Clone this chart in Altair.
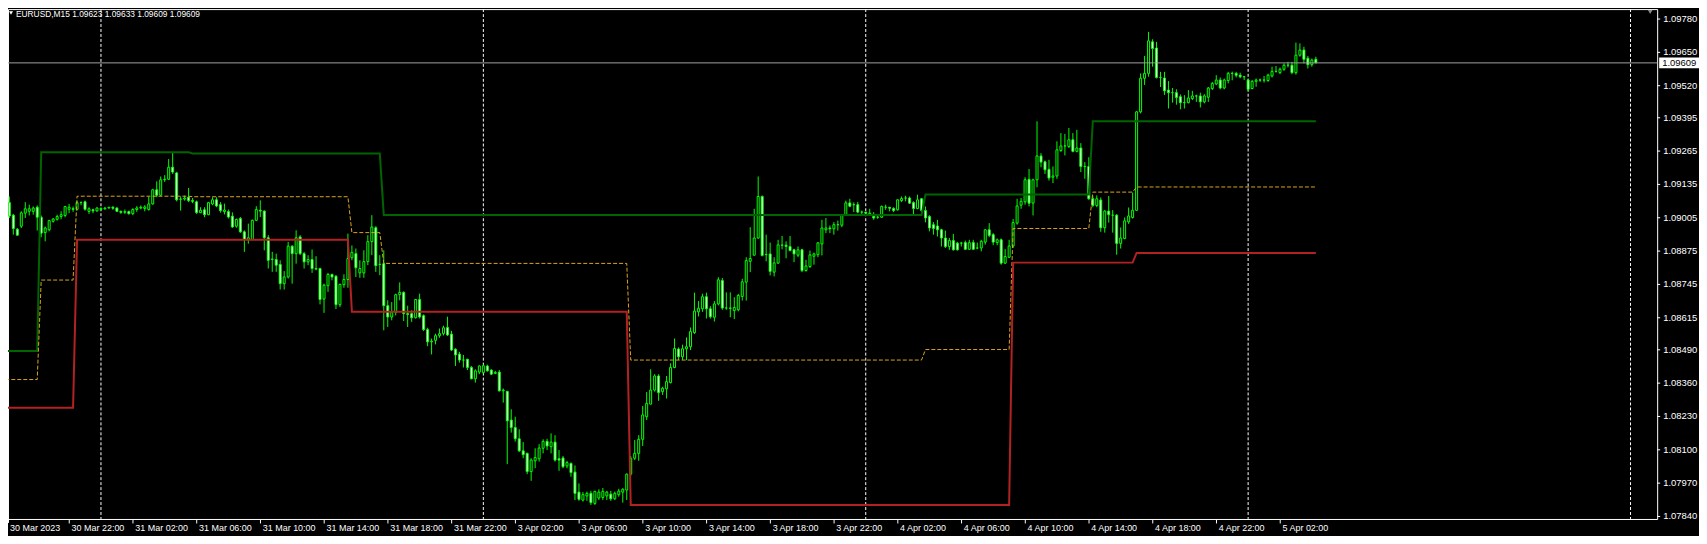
import altair as alt
import pandas as pd

# ---------------- values (EURUSD, M15) ----------------
bar_open = [
1.09121, 1.09064, 1.09015, 1.08960, 1.08972, 1.09023, 1.09030, 1.09030, 1.09046, 1.09007,
1.08947, 1.08958, 1.08991, 1.08999, 1.09010, 1.09014, 1.09038, 1.09040, 1.09038, 1.09064,
1.09067, 1.09030, 1.09036, 1.09032, 1.09037, 1.09040, 1.09043, 1.09046, 1.09043, 1.09030,
1.09026, 1.09029, 1.09021, 1.09037, 1.09043, 1.09041, 1.09037, 1.09059, 1.09114, 1.09093,
1.09153, 1.09155, 1.09202, 1.09180, 1.09077, 1.09078, 1.09085, 1.09072, 1.09067, 1.09025,
1.09036, 1.09017, 1.09059, 1.09075, 1.09056, 1.09029, 1.09029, 1.09011, 1.08972, 1.09002,
1.08950, 1.08920, 1.08920, 1.08995, 1.09034, 1.09031, 1.08927, 1.08842, 1.08842, 1.08823,
1.08748, 1.08774, 1.08894, 1.08865, 1.08930, 1.08865, 1.08833, 1.08842, 1.08807, 1.08807,
1.08688, 1.08740, 1.08784, 1.08777, 1.08666, 1.08744, 1.08764, 1.08849, 1.08865, 1.08790,
1.08790, 1.08834, 1.08912, 1.08966, 1.08823, 1.08826, 1.08662, 1.08618, 1.08636, 1.08705,
1.08714, 1.08631, 1.08631, 1.08615, 1.08686, 1.08623, 1.08569, 1.08521, 1.08527, 1.08545,
1.08553, 1.08577, 1.08551, 1.08492, 1.08473, 1.08450, 1.08453, 1.08421, 1.08377, 1.08403,
1.08401, 1.08427, 1.08411, 1.08398, 1.08403, 1.08330, 1.08328, 1.08216, 1.08187, 1.08143,
1.08096, 1.08086, 1.08015, 1.08057, 1.08065, 1.08106, 1.08133, 1.08112, 1.08130, 1.08065,
1.08068, 1.08037, 1.08047, 1.08013, 1.07935, 1.07904, 1.07920, 1.07930, 1.07891, 1.07912,
1.07914, 1.07920, 1.07927, 1.07909, 1.07925, 1.07935, 1.07943, 1.08005, 1.08067, 1.08086,
1.08141, 1.08229, 1.08278, 1.08333, 1.08388, 1.08327, 1.08338, 1.08362, 1.08421, 1.08493,
1.08463, 1.08494, 1.08502, 1.08557, 1.08638, 1.08650, 1.08697, 1.08650, 1.08617, 1.08669,
1.08760, 1.08653, 1.08653, 1.08643, 1.08646, 1.08698, 1.08754, 1.08835, 1.08859, 1.08926,
1.09088, 1.08861, 1.08864, 1.08793, 1.08828, 1.08898, 1.08898, 1.08893, 1.08880, 1.08859,
1.08880, 1.08799, 1.08815, 1.08855, 1.08861, 1.08903, 1.08958, 1.08965, 1.08962, 1.08978,
1.08976, 1.09017, 1.09063, 1.09056, 1.09056, 1.09027, 1.09027, 1.09020, 1.09011, 1.09007,
1.09007, 1.09046, 1.09046, 1.09041, 1.09036, 1.09072, 1.09082, 1.09082, 1.09064, 1.09041,
1.09079, 1.09033, 1.09010, 1.08978, 1.08973, 1.08958, 1.08926, 1.08893, 1.08916, 1.08906,
1.08906, 1.08908, 1.08882, 1.08908, 1.08887, 1.08887, 1.08910, 1.08958, 1.08939, 1.08908,
1.08919, 1.08828, 1.08851, 1.08895, 1.08984, 1.09054, 1.09067, 1.09155, 1.09062, 1.09153,
1.09246, 1.09223, 1.09194, 1.09163, 1.09168, 1.09267, 1.09285, 1.09283, 1.09309, 1.09264,
1.09277, 1.09205, 1.09205, 1.09079, 1.09053, 1.09074, 1.08966, 1.09031, 1.09015, 1.09015,
1.08905, 1.08924, 1.08989, 1.09006, 1.09034, 1.09418, 1.09549, 1.09568, 1.09691, 1.09667,
1.09552, 1.09550, 1.09503, 1.09493, 1.09493, 1.09477, 1.09454, 1.09454, 1.09470, 1.09480,
1.09480, 1.09457, 1.09475, 1.09509, 1.09527, 1.09542, 1.09511, 1.09540, 1.09568, 1.09568,
1.09561, 1.09555, 1.09542, 1.09509, 1.09537, 1.09542, 1.09542, 1.09540, 1.09558, 1.09576,
1.09571, 1.09584, 1.09600, 1.09600, 1.09571, 1.09639, 1.09659, 1.09627, 1.09602, 1.09623,
]
bar_high = [
1.09130, 1.09088, 1.09020, 1.08965, 1.09030, 1.09066, 1.09056, 1.09049, 1.09053, 1.09014,
1.08971, 1.08997, 1.09004, 1.09017, 1.09030, 1.09051, 1.09059, 1.09049, 1.09072, 1.09069,
1.09072, 1.09046, 1.09040, 1.09046, 1.09046, 1.09046, 1.09047, 1.09050, 1.09046, 1.09033,
1.09037, 1.09033, 1.09042, 1.09050, 1.09053, 1.09054, 1.09088, 1.09118, 1.09147, 1.09166,
1.09171, 1.09234, 1.09257, 1.09184, 1.09088, 1.09091, 1.09121, 1.09082, 1.09072, 1.09046,
1.09046, 1.09067, 1.09085, 1.09085, 1.09066, 1.09060, 1.09037, 1.09026, 1.09002, 1.09008,
1.08956, 1.08982, 1.08998, 1.09050, 1.09073, 1.09034, 1.08937, 1.08872, 1.08865, 1.08839,
1.08797, 1.08911, 1.08898, 1.08956, 1.08937, 1.08872, 1.08859, 1.08881, 1.08855, 1.08810,
1.08748, 1.08790, 1.08787, 1.08781, 1.08748, 1.08784, 1.08943, 1.08897, 1.08885, 1.08839,
1.08878, 1.08937, 1.09015, 1.08972, 1.08859, 1.08878, 1.08683, 1.08676, 1.08709, 1.08753,
1.08718, 1.08662, 1.08644, 1.08688, 1.08709, 1.08628, 1.08576, 1.08534, 1.08553, 1.08573,
1.08584, 1.08619, 1.08564, 1.08496, 1.08482, 1.08470, 1.08455, 1.08427, 1.08414, 1.08429,
1.08433, 1.08432, 1.08414, 1.08408, 1.08411, 1.08339, 1.08329, 1.08258, 1.08229, 1.08180,
1.08130, 1.08089, 1.08067, 1.08106, 1.08122, 1.08141, 1.08143, 1.08164, 1.08157, 1.08099,
1.08076, 1.08057, 1.08050, 1.08039, 1.07969, 1.07935, 1.07937, 1.07940, 1.07940, 1.07946,
1.07951, 1.07940, 1.07940, 1.07937, 1.07948, 1.07950, 1.08008, 1.08076, 1.08138, 1.08157,
1.08271, 1.08325, 1.08414, 1.08395, 1.08395, 1.08346, 1.08388, 1.08437, 1.08534, 1.08499,
1.08510, 1.08538, 1.08577, 1.08713, 1.08680, 1.08709, 1.08713, 1.08660, 1.08680, 1.08773,
1.08770, 1.08714, 1.08714, 1.08695, 1.08708, 1.08767, 1.08851, 1.08968, 1.09040, 1.09166,
1.09092, 1.08939, 1.08908, 1.08851, 1.08919, 1.08934, 1.08913, 1.08934, 1.08884, 1.08893,
1.08884, 1.08841, 1.08877, 1.08869, 1.08910, 1.08997, 1.09004, 1.08975, 1.08988, 1.08994,
1.09020, 1.09072, 1.09079, 1.09065, 1.09067, 1.09033, 1.09027, 1.09040, 1.09027, 1.09014,
1.09053, 1.09056, 1.09046, 1.09046, 1.09077, 1.09088, 1.09091, 1.09088, 1.09069, 1.09095,
1.09082, 1.09049, 1.09015, 1.08988, 1.08997, 1.08962, 1.08955, 1.08926, 1.08942, 1.08911,
1.08911, 1.08916, 1.08919, 1.08919, 1.08908, 1.08919, 1.08960, 1.08984, 1.08945, 1.08924,
1.08924, 1.08883, 1.08919, 1.09000, 1.09079, 1.09082, 1.09163, 1.09195, 1.09157, 1.09381,
1.09257, 1.09228, 1.09231, 1.09205, 1.09303, 1.09335, 1.09332, 1.09355, 1.09335, 1.09348,
1.09296, 1.09222, 1.09241, 1.09091, 1.09092, 1.09084, 1.09035, 1.09090, 1.09035, 1.09019,
1.08967, 1.09006, 1.09045, 1.09103, 1.09422, 1.09568, 1.09636, 1.09730, 1.09701, 1.09691,
1.09574, 1.09574, 1.09538, 1.09511, 1.09506, 1.09486, 1.09483, 1.09503, 1.09500, 1.09485,
1.09493, 1.09487, 1.09515, 1.09535, 1.09561, 1.09552, 1.09548, 1.09574, 1.09575, 1.09574,
1.09571, 1.09558, 1.09548, 1.09542, 1.09548, 1.09548, 1.09558, 1.09567, 1.09594, 1.09597,
1.09591, 1.09607, 1.09613, 1.09613, 1.09688, 1.09685, 1.09672, 1.09636, 1.09626, 1.09633,
]
bar_low = [
1.09059, 1.09004, 1.08939, 1.08936, 1.08965, 1.09004, 1.09014, 1.09017, 1.08955, 1.08929,
1.08913, 1.08952, 1.08986, 1.08994, 1.08999, 1.09007, 1.09023, 1.09028, 1.09033, 1.09054,
1.09033, 1.09020, 1.09023, 1.09028, 1.09033, 1.09036, 1.09041, 1.09036, 1.09028, 1.09020,
1.09020, 1.09017, 1.09015, 1.09028, 1.09038, 1.09030, 1.09033, 1.09056, 1.09085, 1.09090,
1.09145, 1.09153, 1.09176, 1.09069, 1.09033, 1.09072, 1.09066, 1.09062, 1.09020, 1.09023,
1.09007, 1.09015, 1.09054, 1.09046, 1.09025, 1.09018, 1.09002, 1.08966, 1.08966, 1.08946,
1.08872, 1.08904, 1.08917, 1.08992, 1.09008, 1.08878, 1.08807, 1.08794, 1.08794, 1.08725,
1.08725, 1.08768, 1.08748, 1.08826, 1.08859, 1.08807, 1.08820, 1.08790, 1.08800, 1.08667,
1.08634, 1.08716, 1.08761, 1.08649, 1.08657, 1.08732, 1.08732, 1.08839, 1.08774, 1.08771,
1.08771, 1.08820, 1.08859, 1.08794, 1.08781, 1.08566, 1.08579, 1.08605, 1.08624, 1.08683,
1.08602, 1.08579, 1.08599, 1.08612, 1.08612, 1.08563, 1.08504, 1.08472, 1.08511, 1.08537,
1.08546, 1.08544, 1.08486, 1.08427, 1.08440, 1.08421, 1.08411, 1.08375, 1.08362, 1.08395,
1.08398, 1.08405, 1.08392, 1.08395, 1.08327, 1.08284, 1.08044, 1.08167, 1.08132, 1.08091,
1.08067, 1.08005, 1.07979, 1.08028, 1.08054, 1.08086, 1.08099, 1.08086, 1.08054, 1.08018,
1.08028, 1.08028, 1.07995, 1.07904, 1.07901, 1.07898, 1.07901, 1.07885, 1.07885, 1.07904,
1.07904, 1.07904, 1.07901, 1.07904, 1.07917, 1.07894, 1.07904, 1.07998, 1.08060, 1.08057,
1.08115, 1.08216, 1.08278, 1.08327, 1.08291, 1.08314, 1.08300, 1.08359, 1.08418, 1.08450,
1.08450, 1.08450, 1.08489, 1.08552, 1.08620, 1.08638, 1.08612, 1.08612, 1.08600, 1.08663,
1.08646, 1.08646, 1.08617, 1.08610, 1.08640, 1.08682, 1.08682, 1.08793, 1.08858, 1.08923,
1.08854, 1.08835, 1.08780, 1.08776, 1.08825, 1.08882, 1.08847, 1.08874, 1.08832, 1.08851,
1.08793, 1.08795, 1.08809, 1.08822, 1.08851, 1.08858, 1.08945, 1.08945, 1.08939, 1.08955,
1.08968, 1.09013, 1.09046, 1.09027, 1.09023, 1.09014, 1.09017, 1.09014, 1.08997, 1.09001,
1.09004, 1.09036, 1.09030, 1.09027, 1.09033, 1.09066, 1.09069, 1.09059, 1.09017, 1.09038,
1.09027, 1.08987, 1.08952, 1.08939, 1.08932, 1.08893, 1.08887, 1.08880, 1.08877, 1.08877,
1.08893, 1.08880, 1.08880, 1.08880, 1.08882, 1.08874, 1.08900, 1.08929, 1.08898, 1.08898,
1.08822, 1.08825, 1.08848, 1.08887, 1.08978, 1.09040, 1.09056, 1.09049, 1.09014, 1.09124,
1.09202, 1.09176, 1.09150, 1.09140, 1.09157, 1.09262, 1.09248, 1.09277, 1.09260, 1.09260,
1.09183, 1.09157, 1.09075, 1.09046, 1.09046, 1.08950, 1.08947, 1.08986, 1.08947, 1.08861,
1.08885, 1.08921, 1.08981, 1.09002, 1.09032, 1.09412, 1.09523, 1.09555, 1.09594, 1.09548,
1.09515, 1.09484, 1.09431, 1.09454, 1.09446, 1.09428, 1.09431, 1.09451, 1.09464, 1.09457,
1.09435, 1.09451, 1.09457, 1.09503, 1.09522, 1.09506, 1.09506, 1.09529, 1.09541, 1.09552,
1.09549, 1.09542, 1.09498, 1.09506, 1.09516, 1.09535, 1.09532, 1.09535, 1.09552, 1.09571,
1.09565, 1.09578, 1.09591, 1.09565, 1.09563, 1.09633, 1.09607, 1.09587, 1.09594, 1.09609,
]
bar_close = [
1.09062, 1.09012, 1.08963, 1.08937, 1.09024, 1.09040, 1.09040, 1.09043, 1.09007, 1.08945,
1.08965, 1.08994, 1.09000, 1.09010, 1.09017, 1.09049, 1.09046, 1.09038, 1.09064, 1.09064,
1.09038, 1.09040, 1.09032, 1.09043, 1.09041, 1.09043, 1.09046, 1.09042, 1.09030, 1.09026,
1.09029, 1.09021, 1.09037, 1.09043, 1.09046, 1.09047, 1.09059, 1.09114, 1.09093, 1.09153,
1.09155, 1.09202, 1.09183, 1.09075, 1.09078, 1.09082, 1.09072, 1.09069, 1.09025, 1.09034,
1.09017, 1.09064, 1.09075, 1.09051, 1.09033, 1.09035, 1.09008, 1.08969, 1.08998, 1.08950,
1.08920, 1.08927, 1.08995, 1.09037, 1.09031, 1.08927, 1.08839, 1.08844, 1.08820, 1.08748,
1.08774, 1.08894, 1.08865, 1.08927, 1.08865, 1.08833, 1.08842, 1.08807, 1.08805, 1.08686,
1.08742, 1.08784, 1.08774, 1.08666, 1.08745, 1.08764, 1.08846, 1.08870, 1.08810, 1.08807,
1.08834, 1.08912, 1.08969, 1.08818, 1.08823, 1.08662, 1.08618, 1.08636, 1.08705, 1.08714,
1.08631, 1.08628, 1.08615, 1.08686, 1.08618, 1.08569, 1.08521, 1.08524, 1.08545, 1.08553,
1.08576, 1.08548, 1.08489, 1.08470, 1.08450, 1.08450, 1.08421, 1.08377, 1.08408, 1.08427,
1.08428, 1.08408, 1.08395, 1.08402, 1.08330, 1.08333, 1.08213, 1.08187, 1.08143, 1.08096,
1.08081, 1.08015, 1.08060, 1.08070, 1.08107, 1.08133, 1.08115, 1.08130, 1.08060, 1.08060,
1.08034, 1.08050, 1.08011, 1.07930, 1.07907, 1.07925, 1.07930, 1.07894, 1.07938, 1.07935,
1.07938, 1.07935, 1.07909, 1.07930, 1.07939, 1.07946, 1.08005, 1.08067, 1.08086, 1.08141,
1.08236, 1.08281, 1.08333, 1.08388, 1.08323, 1.08340, 1.08366, 1.08421, 1.08495, 1.08463,
1.08494, 1.08502, 1.08561, 1.08641, 1.08652, 1.08697, 1.08650, 1.08619, 1.08669, 1.08763,
1.08653, 1.08653, 1.08652, 1.08655, 1.08702, 1.08755, 1.08838, 1.08846, 1.08926, 1.09088,
1.08858, 1.08862, 1.08796, 1.08829, 1.08899, 1.08898, 1.08893, 1.08877, 1.08864, 1.08880,
1.08799, 1.08817, 1.08860, 1.08864, 1.08907, 1.08965, 1.08965, 1.08962, 1.08978, 1.08978,
1.09014, 1.09063, 1.09050, 1.09056, 1.09027, 1.09027, 1.09023, 1.09023, 1.09004, 1.09007,
1.09049, 1.09046, 1.09042, 1.09033, 1.09075, 1.09080, 1.09082, 1.09062, 1.09041, 1.09075,
1.09033, 1.09004, 1.08965, 1.08963, 1.08958, 1.08926, 1.08893, 1.08916, 1.08880, 1.08880,
1.08906, 1.08882, 1.08908, 1.08882, 1.08887, 1.08913, 1.08958, 1.08936, 1.08910, 1.08919,
1.08828, 1.08854, 1.08895, 1.08986, 1.09051, 1.09069, 1.09153, 1.09062, 1.09153, 1.09246,
1.09222, 1.09192, 1.09160, 1.09168, 1.09270, 1.09285, 1.09285, 1.09309, 1.09264, 1.09277,
1.09205, 1.09205, 1.09079, 1.09053, 1.09079, 1.08966, 1.09031, 1.09017, 1.09015, 1.08905,
1.08926, 1.08993, 1.09012, 1.09034, 1.09418, 1.09549, 1.09568, 1.09695, 1.09665, 1.09552,
1.09552, 1.09500, 1.09493, 1.09493, 1.09474, 1.09454, 1.09454, 1.09472, 1.09480, 1.09480,
1.09457, 1.09480, 1.09511, 1.09529, 1.09542, 1.09511, 1.09542, 1.09568, 1.09568, 1.09561,
1.09555, 1.09555, 1.09506, 1.09537, 1.09542, 1.09542, 1.09542, 1.09561, 1.09576, 1.09576,
1.09584, 1.09600, 1.09600, 1.09571, 1.09639, 1.09659, 1.09623, 1.09602, 1.09620, 1.09609,
]

# step indicator lines: (first bar, last bar, level)
green_first = [0, 9, 47, 95, 231, 273]
green_last = [8, 46, 94, 230, 272, 329]
green_level = [1.08485, 1.09260, 1.09256, 1.09016, 1.09096, 1.09381]

orange_first = [0, 9, 18, 47, 87, 95, 157, 231, 253, 273, 284]
orange_last = [8, 17, 46, 86, 94, 156, 230, 252, 272, 283, 329]
orange_level = [1.08374, 1.08762, 1.09089, 1.09087, 1.08947, 1.08827, 1.08450,
                1.08491, 1.08963, 1.09105, 1.09125]

red_first = [0, 18, 87, 157, 253, 284]
red_last = [17, 86, 156, 252, 283, 329]
red_level = [1.08264, 1.08919, 1.08638, 1.07885, 1.08830, 1.08868]

day_separator_bars = [24, 120, 216, 312, 408]

time_tick_bars = [0, 16, 32, 48, 64, 80, 96, 112, 128, 144, 160, 176, 192, 208,
                  224, 240, 256, 272, 288, 304, 320]
time_labels = ["30 Mar 2023", "30 Mar 22:00", "31 Mar 02:00", "31 Mar 06:00",
               "31 Mar 10:00", "31 Mar 14:00", "31 Mar 18:00", "31 Mar 22:00",
               "3 Apr 02:00", "3 Apr 06:00", "3 Apr 10:00", "3 Apr 14:00",
               "3 Apr 18:00", "3 Apr 22:00", "4 Apr 02:00", "4 Apr 06:00",
               "4 Apr 10:00", "4 Apr 14:00", "4 Apr 18:00", "4 Apr 22:00",
               "5 Apr 02:00"]

price_ticks = [1.09780, 1.09650, 1.09520, 1.09395, 1.09265, 1.09135, 1.09005,
               1.08875, 1.08745, 1.08615, 1.08490, 1.08360, 1.08230, 1.08100,
               1.07970, 1.07840]

last_price = 1.09609
header_text = "EURUSD,M15  1.09623 1.09633 1.09609 1.09609"

# ---------------- chart ----------------
W, H = 1656, 512
PAD_RIGHT, PAD_BOTTOM = 42, 16
FONT = "Liberation Sans"
Y_DOMAIN = [1.078302, 1.098188]
X_DOMAIN = [1.9135, 413.44]
xs = alt.Scale(domain=X_DOMAIN, nice=False, zero=False)
ys = alt.Scale(domain=Y_DOMAIN, nice=False, zero=False)


def X(field="bar:Q", **kw):
    return alt.X(field, scale=xs, title=None, **kw)


def Y(field, **kw):
    return alt.Y(field, scale=ys, title=None, **kw)


candles = pd.DataFrame({
    "bar": list(range(len(bar_close))),
    "open": bar_open, "high": bar_high, "low": bar_low, "close": bar_close,
})
candles["kind"] = ["bear" if c < o else "bull" for o, c in zip(bar_open, bar_close)]


def step_frame(first, last, level):
    rows = []
    for a, b, v in zip(first, last, level):
        rows.append({"bar": a, "price": v, "k": len(rows)})
        rows.append({"bar": b, "price": v, "k": len(rows)})
    return pd.DataFrame(rows)


separators = alt.Chart(pd.DataFrame({"bar": day_separator_bars})).mark_rule(
    color="white", strokeWidth=1, strokeDash=[3, 2]
).encode(
    x=X(axis=alt.Axis(values=time_tick_bars[1:], labels=False, ticks=True,
                      tickColor="white", tickSize=4, tickWidth=1,
                      domain=False, grid=False))
)

wicks = alt.Chart(candles).mark_rule(color="#00FF00", strokeWidth=1, clip=True).encode(
    x=X(), y=Y("low:Q"), y2="high:Q",
)

bodies = alt.Chart(candles).mark_bar(width=2, stroke="#00FF00", strokeWidth=1, clip=True).encode(
    x=X(),
    y=Y("open:Q"),
    y2="close:Q",
    fill=alt.Fill("kind:N", scale=alt.Scale(domain=["bull", "bear"],
                                            range=["#000000", "#FFFFFF"]), legend=None),
)

green_line = alt.Chart(step_frame(green_first, green_last, green_level)).mark_line(
    color="#006400", strokeWidth=2, clip=True).encode(x=X(), y=Y("price:Q"), order="k:Q")
orange_line = alt.Chart(step_frame(orange_first, orange_last, orange_level)).mark_line(
    color="#DAA520", strokeWidth=1, strokeDash=[4, 2], clip=True).encode(
    x=X(), y=Y("price:Q"), order="k:Q")
red_line = alt.Chart(step_frame(red_first, red_last, red_level)).mark_line(
    color="#B22222", strokeWidth=2, clip=True).encode(x=X(), y=Y("price:Q"), order="k:Q")

# right price scale drawn as marks (ticks + labels)
pt_df = pd.DataFrame({"price": price_ticks, "label": [f"{p:.5f}" for p in price_ticks]})
price_tick_marks = alt.Chart(pt_df).mark_rule(color="white", strokeWidth=1).encode(
    x=alt.value(W), x2=alt.value(W + 3), y=Y("price:Q"))
price_tick_text = alt.Chart(pt_df).mark_text(
    align="left", baseline="middle", color="white", font=FONT, fontSize=9.5
).encode(x=alt.value(W + 6), y=Y("price:Q"), text="label:N")

half_box = (Y_DOMAIN[1] - Y_DOMAIN[0]) / H * 5.5
price_df = pd.DataFrame({"price": [last_price], "lo": [last_price - half_box],
                         "hi": [last_price + half_box], "label": [f"{last_price:.5f}"]})
price_line = alt.Chart(price_df).mark_rule(color="#A0A0A0", strokeWidth=1).encode(y=Y("price:Q"))
price_box = alt.Chart(price_df).mark_rect(color="white").encode(
    x=alt.value(W + 2), x2=alt.value(W + 42), y=Y("lo:Q"), y2="hi:Q")
price_txt = alt.Chart(price_df).mark_text(
    align="left", baseline="middle", color="black", font=FONT, fontSize=9.5
).encode(x=alt.value(W + 5), y=Y("price:Q"), text="label:N")

time_df = pd.DataFrame({"bar": time_tick_bars[1:], "label": time_labels[1:]})
time_txt = alt.Chart(time_df).mark_text(
    align="left", baseline="alphabetic", dx=2.5, color="white", font=FONT, fontSize=9
).encode(x=X(), y=alt.value(H + 12), text="label:N")
first_df = pd.DataFrame({"label": time_labels[:1]})
first_tick = alt.Chart(first_df).mark_rule(color="white", strokeWidth=1).encode(
    x=alt.value(0.5), y=alt.value(H), y2=alt.value(H + 4))
first_txt = alt.Chart(first_df).mark_text(
    align="left", baseline="alphabetic", color="white", font=FONT, fontSize=9
).encode(x=alt.value(2), y=alt.value(H + 12), text="label:N")

head_df = pd.DataFrame({"t": [header_text]})
header = alt.Chart(head_df).mark_text(
    align="left", baseline="alphabetic", color="white", font=FONT, fontSize=8.4
).encode(x=alt.value(8), y=alt.value(8), text="t:N")
header_tri = alt.Chart(head_df).mark_point(
    shape="triangle-down", filled=True, color="white", size=16, opacity=1
).encode(x=alt.value(3), y=alt.value(4))
shift_tri = alt.Chart(head_df).mark_point(
    shape="triangle-down", filled=True, color="#8a8a8a", size=22, opacity=1
).encode(x=alt.value(1649), y=alt.value(3))

chart = alt.layer(
    separators, wicks, bodies, green_line, orange_line, red_line,
    price_tick_marks, price_tick_text,
    price_line, price_box, price_txt, time_txt, first_tick, first_txt,
    header, header_tri, shift_tri,
).properties(
    width=W, height=H,
    autosize=alt.AutoSizeParams(type="none"),
    padding={"left": 0, "top": 0, "right": PAD_RIGHT, "bottom": PAD_BOTTOM},
).configure(
    background="#000000"
).configure_view(stroke="white", strokeWidth=1).configure_axis(
    grid=False, domain=False
).configure_axisY(labels=False, ticks=False)

chart.save("out.html", embed_options={"renderer": "svg", "actions": False})
